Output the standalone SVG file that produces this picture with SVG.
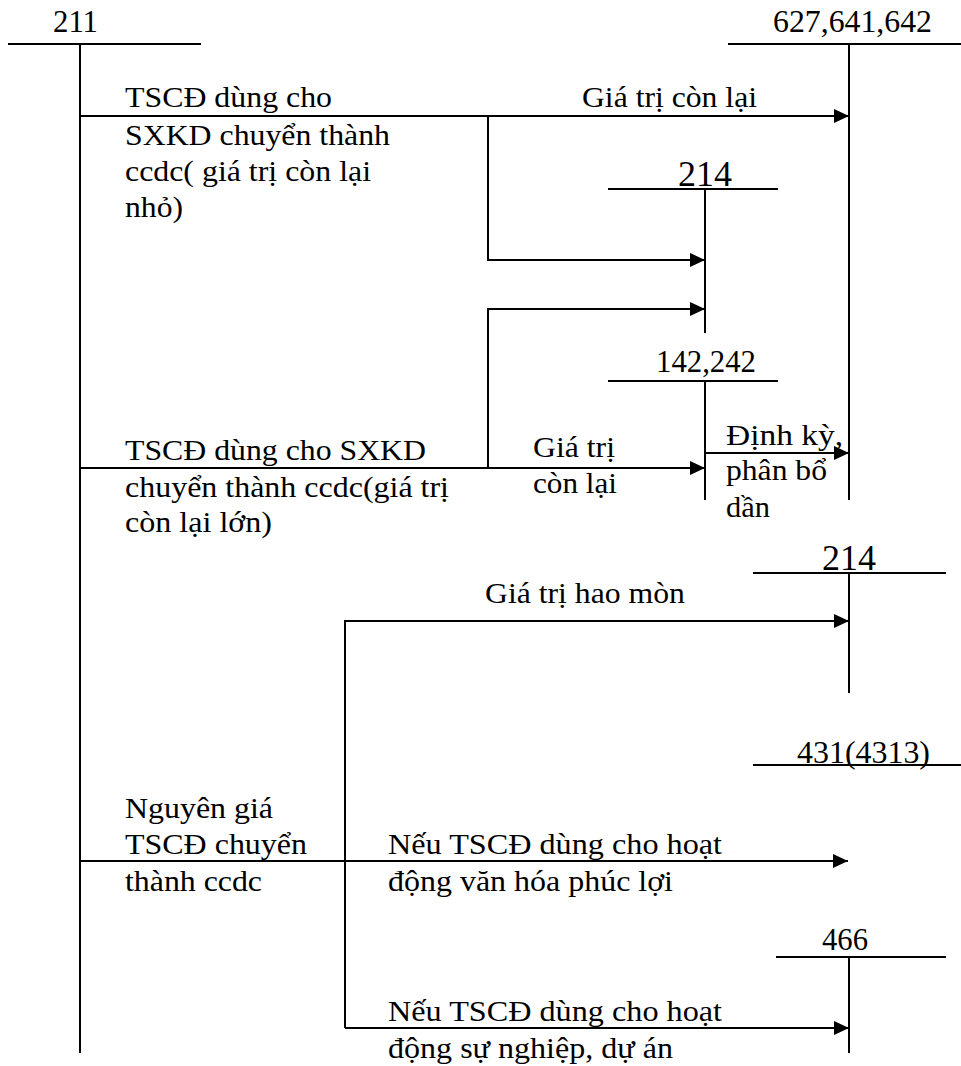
<svg xmlns="http://www.w3.org/2000/svg" width="961" height="1066" viewBox="0 0 961 1066">
<style>
.ln{stroke:#000;stroke-width:2;fill:none}
.ar{stroke:#000;stroke-width:2;fill:none;marker-end:url(#ah)}
text{font-family:"Liberation Serif","Times New Roman",serif;fill:#000}
.b{font-size:30px}
.acc{font-size:31px}
.big{font-size:36px}
</style>
<defs>
<marker id="ah" markerUnits="userSpaceOnUse" markerWidth="16" markerHeight="15" refX="15" refY="7" orient="auto">
<path d="M0,0 L15,7 L0,14 z" fill="#000"/>
</marker>
</defs>
<g id="acc-211">
<line class="ln" x1="8" y1="44" x2="201" y2="44"/>
<line class="ln" x1="80" y1="44" x2="80" y2="1053"/>
<text class="acc" x="53" y="32" textLength="45" lengthAdjust="spacingAndGlyphs">211</text>
</g>
<g id="acc-627">
<line class="ln" x1="728" y1="44" x2="961" y2="44"/>
<line class="ln" x1="849" y1="44" x2="849" y2="500"/>
<text class="acc" x="773" y="32" textLength="159" lengthAdjust="spacingAndGlyphs">627,641,642</text>
</g>
<g id="acc-214a">
<line class="ln" x1="608" y1="189" x2="778" y2="189"/>
<line class="ln" x1="705" y1="189" x2="705" y2="333"/>
<text class="big" x="678" y="186" textLength="54" lengthAdjust="spacingAndGlyphs">214</text>
</g>
<g id="acc-142">
<line class="ln" x1="608" y1="381" x2="778" y2="381"/>
<line class="ln" x1="705" y1="381" x2="705" y2="500"/>
<text class="acc" x="656" y="372" textLength="100" lengthAdjust="spacingAndGlyphs">142,242</text>
</g>
<g id="acc-214b">
<line class="ln" x1="753" y1="573" x2="946" y2="573"/>
<line class="ln" x1="849" y1="573" x2="849" y2="693"/>
<text class="big" x="822" y="570" textLength="54" lengthAdjust="spacingAndGlyphs">214</text>
</g>
<g id="acc-431">
<line class="ln" x1="753" y1="765" x2="961" y2="765"/>
<text class="acc" x="797" y="763" textLength="133" lengthAdjust="spacingAndGlyphs">431(4313)</text>
</g>
<g id="acc-466">
<line class="ln" x1="776" y1="957" x2="946" y2="957"/>
<line class="ln" x1="849" y1="957" x2="849" y2="1053"/>
<text class="acc" x="822" y="950" textLength="46" lengthAdjust="spacingAndGlyphs">466</text>
</g>
<g id="connectors">
<line class="ar" x1="80" y1="116" x2="849" y2="116"/>
<polyline class="ar" points="488,116 488,260 705,260"/>
<line class="ar" x1="80" y1="468" x2="705" y2="468"/>
<polyline class="ar" points="488,468 488,309 705,309"/>
<line class="ar" x1="705" y1="453" x2="849" y2="453"/>
<polyline class="ar" points="345,1028 345,621 849,621"/>
<line class="ar" x1="80" y1="861" x2="848" y2="861"/>
<line class="ar" x1="345" y1="1028" x2="849" y2="1028"/>
</g>
<g id="labels">
<text class="b" x="125" y="107" textLength="207" lengthAdjust="spacingAndGlyphs">TSCĐ dùng cho</text>
<text class="b" x="125" y="145" textLength="265" lengthAdjust="spacingAndGlyphs">SXKD chuyển thành</text>
<text class="b" x="125" y="181" textLength="246" lengthAdjust="spacingAndGlyphs">ccdc( giá trị còn lại</text>
<text class="b" x="125" y="217" textLength="58" lengthAdjust="spacingAndGlyphs">nhỏ)</text>
<text class="b" x="582" y="107" textLength="175" lengthAdjust="spacingAndGlyphs">Giá trị còn lại</text>
<text class="b" x="125" y="460" textLength="301" lengthAdjust="spacingAndGlyphs">TSCĐ dùng cho SXKD</text>
<text class="b" x="125" y="497" textLength="324" lengthAdjust="spacingAndGlyphs">chuyển thành ccdc(giá trị</text>
<text class="b" x="125" y="532" textLength="147" lengthAdjust="spacingAndGlyphs">còn lại lớn)</text>
<text class="b" x="533" y="457" textLength="82" lengthAdjust="spacingAndGlyphs">Giá trị</text>
<text class="b" x="533" y="493" textLength="84" lengthAdjust="spacingAndGlyphs">còn lại</text>
<text class="b" x="726" y="445" textLength="117" lengthAdjust="spacingAndGlyphs">Định kỳ,</text>
<text class="b" x="726" y="480" textLength="101" lengthAdjust="spacingAndGlyphs">phân bổ</text>
<text class="b" x="726" y="517" textLength="44" lengthAdjust="spacingAndGlyphs">dần</text>
<text class="b" x="485" y="603" textLength="200" lengthAdjust="spacingAndGlyphs">Giá trị hao mòn</text>
<text class="b" x="125" y="818" textLength="148" lengthAdjust="spacingAndGlyphs">Nguyên giá</text>
<text class="b" x="125" y="854" textLength="182" lengthAdjust="spacingAndGlyphs">TSCĐ chuyển</text>
<text class="b" x="125" y="891" textLength="137" lengthAdjust="spacingAndGlyphs">thành ccdc</text>
<text class="b" x="388" y="854" textLength="334" lengthAdjust="spacingAndGlyphs">Nếu TSCĐ dùng cho hoạt</text>
<text class="b" x="388" y="891" textLength="285" lengthAdjust="spacingAndGlyphs">động văn hóa phúc lợi</text>
<text class="b" x="388" y="1021" textLength="334" lengthAdjust="spacingAndGlyphs">Nếu TSCĐ dùng cho hoạt</text>
<text class="b" x="388" y="1058" textLength="285" lengthAdjust="spacingAndGlyphs">động sự nghiệp, dự án</text>
</g>
</svg>
